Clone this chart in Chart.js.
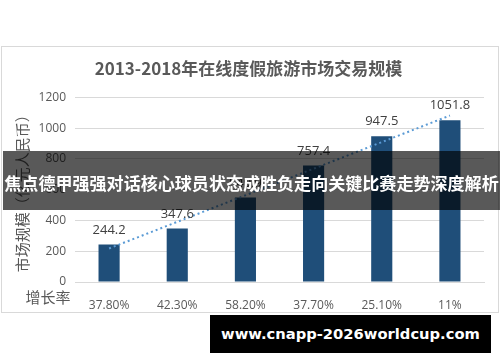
<!DOCTYPE html>
<html>
<head>
<meta charset="utf-8">
<title>2013-2018年在线度假旅游市场交易规模</title>
<script src="https://cdn.jsdelivr.net/npm/chart.js@4.4.1/dist/chart.umd.min.js"></script>
<style>
    html, body { margin:0; padding:0; background:#fff; }
    body { width:500px; height:362px; position:relative; overflow:hidden; }
    #frame { position:absolute; left:1px; top:46px; width:498px; height:267px; border:1px solid #d9d9d9; box-sizing:border-box; }
    #banner { position:absolute; left:3px; top:151px; width:497px; height:59px; background:rgba(0,0,0,0.65);
              color:#fff; font:bold 16.5px "Noto Sans CJK SC", sans-serif; text-align:center; line-height:63px; white-space:nowrap; }
    #site { position:absolute; left:210px; top:315px; width:281px; height:38px; background:#000;
            color:#fff; font:bold 16px "DejaVu Sans", sans-serif; text-align:center; line-height:38px; white-space:nowrap; }
</style>
</head>
<body>
<div id="frame"><canvas id="chart"></canvas></div>
<div id="banner"><span>焦点德甲强强对话核心球员状态成胜负走向关键比赛走势深度解析</span></div>
<div id="site"><span>www.cnapp-2026worldcup.com</span></div>

<script>
    // 年份对应的增长率 (x轴上显示的就是增长率)
    var growth = ['37.80%', '42.30%', '58.20%', '37.70%', '25.10%', '11%'];
    // 市场规模 (亿元人民币), 第三个被遮住, 按柱高估计
    var scale = [244.2, 347.6, 549.9, 757.4, 947.5, 1051.8];
    // 趋势线两端
    var trend = [218, null, null, null, null, 1082];
    var yTicks = [0, 200, 400, 600, 800, 1000, 1200];

    var grey = '#595959';

    // 把横幅文字缩放到参考图里的宽度
    function fitText(id, w) {
        var el = document.querySelector('#' + id);
        var span = el.querySelector('span');
        var size = parseFloat(getComputedStyle(el).fontSize);
        el.style.fontSize = (size * w / span.getBoundingClientRect().width) + 'px';
    }
    fitText('banner', 495);
    fitText('site', 259);

    // 柱顶数值 + 左下角"增长率"
    var labelPlugin = {
        id: 'labels',
        afterDatasetsDraw: function(chart) {
            var ctx = chart.ctx;
            var meta = chart.getDatasetMeta(1);
            ctx.save();
            ctx.font = '13px "Open Sans", sans-serif';
            ctx.fillStyle = '#404040';
            ctx.textAlign = 'center';
            ctx.textBaseline = 'bottom';
            meta.data.forEach(function(bar, i) {
                ctx.fillText(scale[i].toFixed(1), bar.x, bar.y - 8);
            });
            ctx.font = '15px "Noto Sans CJK SC", sans-serif';
            ctx.fillStyle = grey;
            ctx.textBaseline = 'middle';
            ctx.fillText('增长率', 46, chart.chartArea.bottom + 15);
            ctx.restore();
        }
    };

    new Chart(document.getElementById('chart'), {
        data: {
            labels: growth,
            datasets: [
                {
                    type: 'line',
                    data: trend,
                    spanGaps: true,
                    borderColor: '#5b9bd5',
                    borderWidth: 2,
                    borderDash: [2, 3],
                    pointRadius: 0,
                    fill: false,
                    order: 0
                },
                {
                    type: 'bar',
                    data: scale,
                    backgroundColor: '#1f4e79',
                    barPercentage: 0.31,
                    categoryPercentage: 1,
                    order: 1
                }
            ]
        },
        options: {
            responsive: true,
            maintainAspectRatio: false,
            animation: false,
            layout: { padding: { top: 0, right: 14, left: 11, bottom: 0 } },
            plugins: {
                legend: { display: false },
                tooltip: { enabled: false },
                title: {
                    display: true,
                    text: '2013-2018年在线度假旅游市场交易规模',
                    color: grey,
                    font: { family: '"Noto Sans CJK SC", sans-serif', size: 17, weight: 'bold' },
                    padding: { top: 11, bottom: 19 }
                }
            },
            scales: {
                x: {
                    grid: { display: false },
                    border: { color: '#d9d9d9' },
                    ticks: { color: grey, font: { family: '"Open Sans", sans-serif', size: 12 }, padding: 8, maxRotation: 0 },
                    afterFit: function(s) { s.height = 30; }
                },
                y: {
                    min: 0,
                    max: 1200,
                    afterBuildTicks: function(s) { s.ticks = yTicks.map(function(v) { return { value: v }; }); },
                    grid: { color: '#d9d9d9', drawTicks: false },
                    border: { display: false },
                    ticks: {
                        color: grey,
                        font: { family: '"Open Sans", sans-serif', size: 12 },
                        padding: 9,
                        callback: function(v) { return String(v); }
                    },
                    title: {
                        display: true,
                        text: '市场规模（亿元人民币）',
                        color: grey,
                        font: { family: '"Noto Sans CJK SC", sans-serif', size: 15 },
                        padding: { top: 0, bottom: 0 }
                    },
                    afterFit: function(s) { s.width = 62; }
                }
            }
        },
        plugins: [labelPlugin]
    });
</script>
</body>
</html>
